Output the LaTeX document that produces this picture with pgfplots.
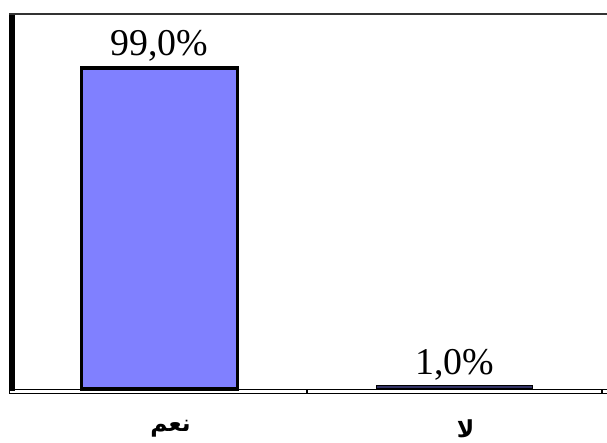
\documentclass[border=0pt]{standalone}
\usepackage{pgfplots}
\pgfplotsset{compat=1.18}
\usepackage{fontspec}
\setmainfont{Liberation Serif}
\newfontfamily\arabicfont[Script=Arabic]{DejaVu Sans}
\TeXXeTstate=1
\definecolor{barblue}{RGB}{128,128,255}
\pgfplotsset{
  pct label/.style={
    nodes near coords={\pgfmathprintnumber[fixed, fixed zerofill, precision=1, use comma, assume math mode=true]{\pgfplotspointmeta}\%},
    every node near coord/.append style={font=\fontsize{38}{40}\selectfont, text=black, inner sep=4.5bp}},
}
\begin{document}
\begin{tikzpicture}
\useasboundingbox (0,0) rectangle (607bp,443bp);
\begin{axis}[
  at={(12bp,54bp)}, anchor=south west,
  scale only axis, width=590bp, height=375bp,
  xmin=-0.5, xmax=1.5, ymin=0, ymax=115.65,
  clip=false,
  axis line style={draw=none},
  ytick=\empty,
  xtick pos=bottom,
  xtick={0,1},
  xticklabels={{\arabicfont\bfseries\beginR نعم\endR},{\arabicfont\bfseries\beginR لا\endR}},
  major tick length=0pt,
  xticklabel style={font=\fontsize{23.5}{25}\selectfont, xshift=11bp, yshift=-27.5bp},
  extra x ticks={0.5,1.5},
  extra x tick labels={},
  extra x tick style={major tick length=4bp, tick align=outside,
    tick style={line width=2.5bp, black}},
]
\addplot[ybar, bar width=156bp, bar shift=0pt, fill=barblue, draw=black,
  line width=3.5bp, pct label] coordinates {(0,99)};
\addplot[ybar, bar width=156bp, bar shift=0pt, fill=barblue!40!black, draw=black,
  line width=1.2bp, pct label] coordinates {(1,1)};
% frame: heavy left rule, thin top rule, doubled base
\draw[line width=5bp] (axis cs:-0.5,0) ++(0bp,-2bp) -- (axis cs:-0.5,115.65);
\draw[line width=1.2bp, black!80] (axis cs:-0.5,115.65) ++(-2.5bp,0bp) -- ++(597.5bp,0bp);
\draw[line width=1bp] (axis cs:-0.5,0) ++(-2.5bp,0bp) -- ++(597.5bp,0bp);
\draw[line width=1bp] (axis cs:-0.5,0) ++(-2.5bp,0bp) -- ++(0bp,-4.5bp) -- ++(597.5bp,0bp);
\end{axis}
\end{tikzpicture}
\end{document}
